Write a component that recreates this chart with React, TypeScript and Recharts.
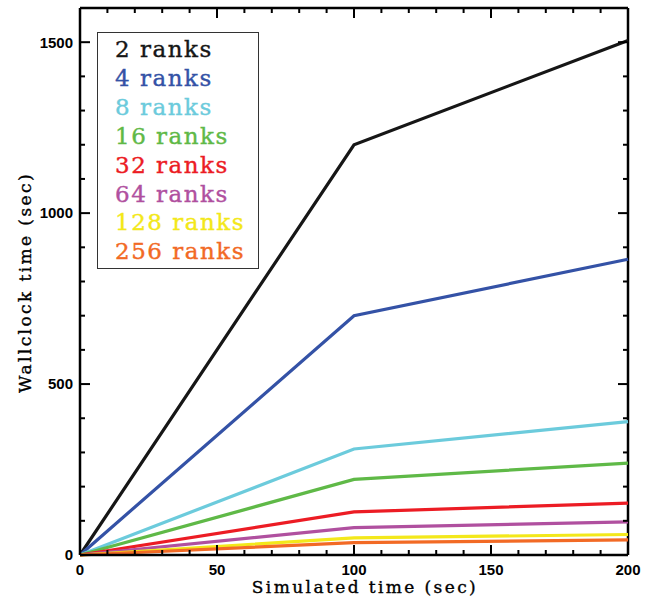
import { ComposedChart, Line, XAxis, YAxis, Legend, ReferenceLine } from "recharts";

const simTime = [0, 100, 200];

const ranks2 = [0, 1200, 1505];
const ranks4 = [0, 700, 865];
const ranks8 = [0, 310, 390];
const ranks16 = [0, 221, 269];
const ranks32 = [0, 126, 152];
const ranks64 = [0, 80, 97];
const ranks128 = [0, 50, 60];
const ranks256 = [0, 36, 44];

const seriesNames = ["2 ranks", "4 ranks", "8 ranks", "16 ranks", "32 ranks", "64 ranks", "128 ranks", "256 ranks"];
const seriesColors = ["#161616", "#3452a6", "#6ccbdc", "#5fb947", "#ec1c24", "#b0509f", "#f3e81a", "#f26a25"];
const seriesValues = [ranks2, ranks4, ranks8, ranks16, ranks32, ranks64, ranks128, ranks256];

const xMinor = [0, 10, 20, 30, 40, 50, 60, 70, 80, 90, 100, 110, 120, 130, 140, 150, 160, 170, 180, 190, 200];
const yMinor = [0, 100, 200, 300, 400, 500, 600, 700, 800, 900, 1000, 1100, 1200, 1300, 1400, 1500, 1600];
const xMajor = [0, 50, 100, 150, 200];
const yMajor = [0, 500, 1000, 1500];

const X_MAX = 200;
const Y_MAX = 1600;

const data = simTime.map((t, i) => {
  const row: Record<string, number> = { t };
  seriesValues.forEach((vals, k) => (row["s" + k] = vals[i]));
  return row;
});

// plot box implied by the chart margins and axis sizes below
const W = 654;
const H = 603;
const M = { top: 8, right: 26, left: 80, bottom: 48 };
const px = (v: number) => M.left + (v / X_MAX) * (W - M.left - M.right);
const py = (v: number) => H - M.bottom - (v / Y_MAX) * (H - M.top - M.bottom);

const serifFont = "'DejaVu Serif', 'Liberation Serif', serif";
const tickStyle = { fill: "#000", fontSize: 15, fontWeight: 700, fontFamily: "'Liberation Sans', Arial, sans-serif" };
const titleStyle = { fontFamily: serifFont, fontSize: 17, letterSpacing: 2.4, fill: "#000", stroke: "#000", strokeWidth: 0.35 };
const frame = { stroke: "#000", strokeWidth: 2.5 };

function RankLegend() {
  return (
    <div
      style={{
        width: 143,
        height: 233,
        padding: "2px 0 0 17px",
        border: "1.5px solid #333",
        background: "#fff",
        fontFamily: serifFont,
        fontSize: 23,
        letterSpacing: 1.5,
        lineHeight: "28.9px",
        textAlign: "left",
        whiteSpace: "nowrap",
        WebkitTextStroke: "0.4px",
      }}
    >
      {seriesNames.map((n, k) => (
        <div key={n} style={{ color: seriesColors[k] }}>{n}</div>
      ))}
    </div>
  );
}

// inward tick marks on all four sides of the box
function TickMarks() {
  const top = py(Y_MAX);
  const bottom = py(0);
  const left = px(0);
  const right = px(X_MAX);
  return (
    <svg width={W} height={H} style={{ position: "absolute", left: 0, top: 0, pointerEvents: "none" }}>
      <g stroke="#000" strokeWidth={2}>
        {xMinor.map((v) => {
          const len = xMajor.includes(v) ? 10 : 5;
          return (
            <g key={"x" + v}>
              <line x1={px(v)} x2={px(v)} y1={bottom} y2={bottom - len} />
              <line x1={px(v)} x2={px(v)} y1={top} y2={top + len} />
            </g>
          );
        })}
        {yMinor.map((v) => {
          const len = yMajor.includes(v) ? 10 : 5;
          return (
            <g key={"y" + v}>
              <line x1={left} x2={left + len} y1={py(v)} y2={py(v)} />
              <line x1={right} x2={right - len} y1={py(v)} y2={py(v)} />
            </g>
          );
        })}
      </g>
    </svg>
  );
}

export default function App() {
  return (
    <div style={{ position: "absolute", left: 0, top: 0, width: W, height: H, background: "#fff" }}>
      <ComposedChart width={W} height={H} data={data} margin={{ top: M.top, right: M.right, bottom: 0, left: 0 }}>
        <XAxis
          dataKey="t"
          type="number"
          domain={[0, X_MAX]}
          ticks={xMajor}
          interval={0}
          height={M.bottom}
          tickSize={0}
          tickMargin={9}
          tickLine={false}
          tick={tickStyle}
          axisLine={frame}
          label={{ value: "Simulated time (sec)", position: "insideBottom", offset: 10, dx: 11, style: titleStyle }}
        />
        <YAxis
          type="number"
          domain={[0, Y_MAX]}
          ticks={yMajor}
          interval={0}
          width={M.left}
          tickSize={0}
          tickMargin={7}
          tickLine={false}
          tick={tickStyle}
          axisLine={frame}
          label={{ value: "Wallclock time (sec)", angle: -90, position: "insideLeft", offset: 25, dy: 1, style: { ...titleStyle, textAnchor: "middle" } }}
        />
        {/* box frame */}
        <ReferenceLine x={X_MAX} stroke="#000" strokeWidth={2.5} ifOverflow="visible" />
        <ReferenceLine y={Y_MAX} stroke="#000" strokeWidth={2.5} ifOverflow="visible" />
        <Legend
          layout="vertical"
          align="center"
          verticalAlign="middle"
          content={<RankLegend />}
          wrapperStyle={{ left: 97, top: 32, width: "auto" }}
        />
        {seriesNames.map((n, k) => (
          <Line
            key={n}
            dataKey={"s" + k}
            name={n}
            type="linear"
            stroke={seriesColors[k]}
            strokeWidth={3.2}
            dot={false}
            activeDot={false}
            isAnimationActive={false}
          />
        ))}
      </ComposedChart>
      <TickMarks />
    </div>
  );
}
